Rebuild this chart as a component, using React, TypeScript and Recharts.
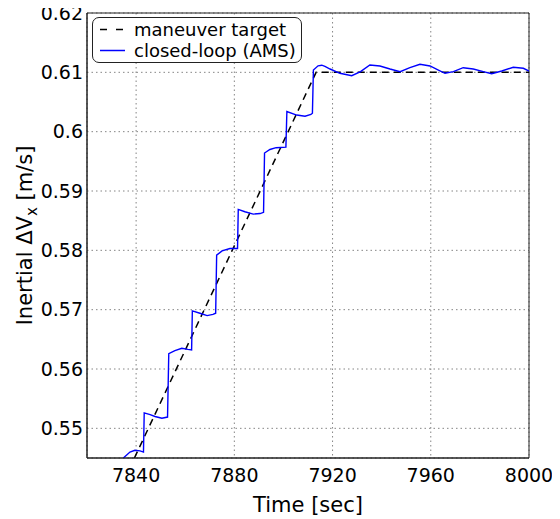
import React from 'react';
import { LineChart, Line, XAxis, YAxis, CartesianGrid, Legend, ReferenceArea } from 'recharts';

const xTicks = [7840, 7880, 7920, 7960, 8000];
const yTicks = [0.55, 0.56, 0.57, 0.58, 0.59, 0.6, 0.61, 0.62];

const targetTime = [7839.3, 7913.3, 8000];
const targetValue = [0.545, 0.61, 0.61];

const amsTime = [
  7834.8, 7837.5, 7839.5, 7841.6, 7843.0, 7843.3, 7845.7, 7847.7, 7850.5, 7852.8,
  7853.3, 7855.8, 7858.6, 7861.1, 7862.6, 7862.9, 7866.0, 7868.9, 7871.3, 7872.4,
  7872.8, 7875.0, 7878.2, 7881.3, 7881.6, 7884.3, 7887.7, 7890.5, 7891.9, 7892.3,
  7894.5, 7897.0, 7901.0, 7901.4, 7905.4, 7908.8, 7911.2, 7911.8, 7912.2, 7914.1,
  7915.6, 7916.9, 7919.0, 7923.0, 7927.8, 7931.4, 7935.2, 7939.3, 7943.4, 7947.5,
  7951.5, 7955.6, 7959.7, 7963.1, 7965.8, 7969.2, 7973.2, 7977.3, 7981.4, 7984.8,
  7988.9, 7993.6, 7997.7, 8000,
];
const amsValue = [
  0.545, 0.546, 0.5463, 0.5462, 0.546, 0.5526, 0.5523, 0.552, 0.5517, 0.5519,
  0.5626, 0.5631, 0.5635, 0.5633, 0.5632, 0.5698, 0.5694, 0.569, 0.5692, 0.5694,
  0.5792, 0.5799, 0.5803, 0.5803, 0.5869, 0.5865, 0.5861, 0.5862, 0.5864, 0.5964,
  0.597, 0.5973, 0.5974, 0.6034, 0.6028, 0.6026, 0.6029, 0.6031, 0.6104, 0.6111,
  0.6112, 0.611, 0.61056, 0.60984, 0.60944, 0.61011, 0.61124, 0.61107, 0.61056, 0.61011,
  0.61078, 0.61136, 0.61107, 0.61039, 0.60984, 0.61011, 0.61078, 0.61056, 0.61011, 0.60977,
  0.61022, 0.61085, 0.61068, 0.61022,
];

const targetData = targetTime.map((t, i) => ({ t, v: targetValue[i] }));
const amsData = amsTime.map((t, i) => ({ t, v: amsValue[i] }));

const FONT = '"DejaVu Sans", Verdana, sans-serif';

const YLabel = (props: any) => {
  const vb = props.viewBox || { x: 0, y: 0, width: 0, height: 0 };
  const cx = vb.x + 17;
  const cy = vb.y + vb.height / 2;
  return (
    <text
      transform={`translate(${cx}, ${cy}) rotate(-90)`}
      textAnchor="middle"
      dy="0.35em"
      fontFamily={FONT}
      fontSize={21}
      fill="#000"
    >
      <tspan>Inertial ΔV</tspan>
      <tspan dy={5} fontSize={15}>x</tspan>
      <tspan dy={-5}> [m/s]</tspan>
    </text>
  );
};

const XLabel = (props: any) => {
  const vb = props.viewBox || { x: 0, y: 0, width: 0, height: 0 };
  return (
    <text
      x={vb.x + vb.width / 2}
      y={vb.y + 54}
      textAnchor="middle"
      fontFamily={FONT}
      fontSize={21}
      fill="#000"
    >
      Time [sec]
    </text>
  );
};

const LegendBox = () => (
  <div
    style={{
      width: 210,
      height: 46,
      boxSizing: 'border-box',
      border: '1px solid #222',
      borderRadius: 7,
      background: '#fff',
      fontFamily: FONT,
      fontSize: 18,
      color: '#000',
      paddingTop: 1,
    }}
  >
    {[
      { name: 'maneuver target', stroke: '#000', dash: '7 9' },
      { name: 'closed-loop (AMS)', stroke: '#0000ff', dash: undefined },
    ].map((e) => (
      <div key={e.name} style={{ display: 'flex', alignItems: 'center', height: 21, lineHeight: '21px', whiteSpace: 'nowrap' }}>
        <svg width={28} height={21} style={{ marginLeft: 5, marginRight: 8 }}>
          <line x1={2} y1={10.5} x2={27} y2={10.5} stroke={e.stroke} strokeWidth={1.5} strokeDasharray={e.dash} />
        </svg>
        <span>{e.name}</span>
      </div>
    ))}
  </div>
);

export default function App() {
  return (
    <div style={{ width: 552, height: 511 }}>
      <style>{'.recharts-surface{overflow:visible}'}</style>
      <LineChart width={552} height={511} margin={{ top: 5, right: 31, bottom: 0, left: 0 }}>
        <CartesianGrid stroke="#666" strokeDasharray="1.5 3" strokeWidth={0.8} />
        <XAxis
          type="number"
          dataKey="t"
          domain={[7820, 8000]}
          ticks={xTicks}
          interval={0}
          allowDataOverflow
          height={61}
          tickLine={false}
          tickSize={0}
          tickMargin={11}
          axisLine={{ stroke: '#222' }}
          tick={{ fill: '#000', fontSize: 19, fontFamily: FONT }}
          label={XLabel}
        />
        <YAxis
          type="number"
          domain={[0.545, 0.62]}
          ticks={yTicks}
          interval={0}
          allowDataOverflow
          width={79}
          tickLine={false}
          tickSize={0}
          tickMargin={4}
          axisLine={{ stroke: '#222' }}
          tick={{ fill: '#000', fontSize: 19, fontFamily: FONT }}
          tickFormatter={(v: number) => String(v)}
          label={YLabel}
        />
        <ReferenceArea x1={7820} x2={8000} y1={0.545} y2={0.62} fill="none" stroke="#222" strokeWidth={1} ifOverflow="visible" />
        <Line
          data={targetData}
          dataKey="v"
          type="linear"
          stroke="#000"
          strokeWidth={1.5}
          strokeDasharray="7 5"
          dot={false}
          isAnimationActive={false}
          name="maneuver target"
        />
        <Line
          data={amsData}
          dataKey="v"
          type="linear"
          stroke="#0000ff"
          strokeWidth={1.4}
          dot={false}
          isAnimationActive={false}
          name="closed-loop (AMS)"
        />
        <Legend
          layout="vertical"
          align="center"
          verticalAlign="middle"
          content={LegendBox}
          wrapperStyle={{ top: 9, left: 84, width: 210, height: 46 }}
        />
      </LineChart>
    </div>
  );
}
